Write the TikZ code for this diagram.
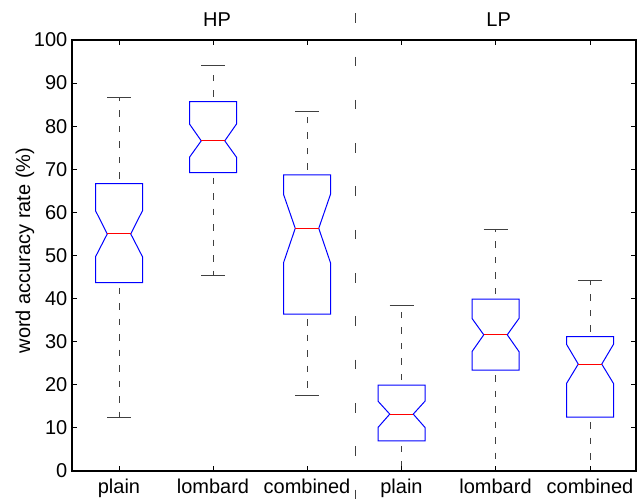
\documentclass[tikz,border=0pt]{standalone}
\usepackage{fontspec}
\setmainfont{Liberation Sans}
\tikzset{
  boxline/.style={draw=blue, line width=1bp, line join=miter},
  medline/.style={draw=red, line width=1bp},
  whisk/.style={draw=black!75, line width=1bp, dash pattern=on 6.5bp off 9bp, dash phase=-5bp},
  capline/.style={draw=black!75, line width=1bp},
  axisline/.style={draw=black, line width=1.3bp},
  tickline/.style={draw=black, line width=1bp},
  sepline/.style={draw=black!75, line width=1bp, dash pattern=on 9.5bp off 33.8bp},
  lbl/.style={font=\fontsize{20bp}{24bp}\selectfont, inner sep=0pt},
}
% #1 x, #2 lower cap, #3 q1, #4 notch low, #5 median, #6 notch high, #7 q3, #8 upper cap
\newcommand\bxplot[8]{%
  \draw[whisk] (#1,#7) -- (#1,#8);
  \draw[whisk] (#1,#3) -- (#1,#2);
  \draw[capline] (#1-12,#8) -- (#1+12,#8);
  \draw[capline] (#1-12,#2) -- (#1+12,#2);
  \draw[boxline] (#1-23.5,#7) -- (#1+23.5,#7) -- (#1+23.5,#6) -- (#1+11.75,#5)
     -- (#1+23.5,#4) -- (#1+23.5,#3) -- (#1-23.5,#3) -- (#1-23.5,#4)
     -- (#1-11.75,#5) -- (#1-23.5,#6) -- cycle;
  \draw[medline] (#1-11.75,#5) -- (#1+11.75,#5);
}
\begin{document}
\begin{tikzpicture}[x=1bp,y=1bp]
\useasboundingbox (0,0) rectangle (637,499);
% separator
\coordinate (septop) at (355.7,485.7);
\coordinate (sepbot) at (355.7,0);
\draw[sepline] (septop) -- (sepbot);
\begin{scope}[shift={(0bp,28bp)}, x=1bp, y=4.31bp]
  \bxplot{119}{12.4}{43.7}{49.7}{55.0}{60.4}{66.7}{86.6}
  \bxplot{213}{45.4}{69.2}{72.8}{76.6}{80.5}{85.7}{94.0}
  \bxplot{307}{17.6}{36.4}{48.3}{56.3}{64.2}{68.7}{83.3}
  \bxplot{401.5}{0}{7.0}{10.1}{13.2}{16.2}{19.9}{38.4}
  \bxplot{495.5}{0}{23.4}{27.7}{31.6}{35.4}{39.9}{56.1}
  \bxplot{590}{0}{12.5}{20.3}{24.8}{29.4}{31.2}{44.3}
  % axes
  \foreach \v in {0,10,...,100} {
    \draw[tickline] (72,\v) -- ++(5bp,0);
    \draw[tickline] (636,\v) -- ++(-5bp,0);
    \node[lbl, anchor=east] (yt\v) at (67.5,\v) {\v};
  }
  \foreach \x in {119,213,307,401.5,495.5,590} {
    \draw[tickline] (\x,0) -- ++(0,5bp);
    \draw[tickline] (\x,100) -- ++(0,-5bp);
  }
  \draw[axisline] (72,0) rectangle (636,100);
\end{scope}
% x tick labels
\node[lbl, anchor=base] (xl1) at (119,5) {plain};
\node[lbl, anchor=base] (xl2) at (213,5) {lombard};
\node[lbl, anchor=base] (xl3) at (307,5) {combined};
\node[lbl, anchor=base] (xl4) at (401.5,5) {plain};
\node[lbl, anchor=base] (xl5) at (495.5,5) {lombard};
\node[lbl, anchor=base] (xl6) at (590,5) {combined};
% titles
\node[lbl, anchor=base] (hp) at (217,472.3) {HP};
\node[lbl, anchor=base] (lp) at (498.7,472.3) {LP};
% y label
\node[lbl, anchor=base, rotate=90] (ylab) at (30,248.5) {word accuracy rate (\%)};
\end{tikzpicture}
\end{document}
